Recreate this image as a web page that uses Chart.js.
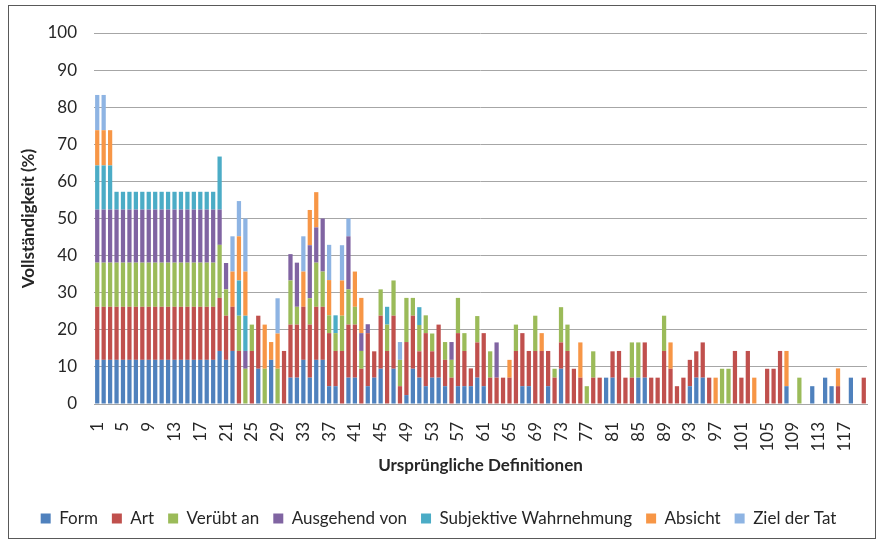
<!DOCTYPE html>
<html>
<head>
<meta charset="utf-8">
<script src="https://cdn.jsdelivr.net/npm/chart.js@4.4.1/dist/chart.umd.min.js"></script>
<style>
  html, body { margin: 0; padding: 0; background: #fff; }
  #wrap { position: relative; width: 882px; height: 545px; }
  #frame { position: absolute; left: 8px; top: 5px; width: 866px; height: 532px; border: 1px solid #595959; pointer-events: none; }
  canvas { position: absolute; left: 0; top: 0; }
</style>
</head>
<body>
<div id="wrap">
  <canvas id="chart" width="882" height="545"></canvas>
  <div id="frame"></div>
</div>
<script>
// Kategorien 1..120
const categories = [
    1, 2, 3, 4, 5, 6, 7, 8, 9, 10, 11, 12, 13, 14, 15, 16, 17, 18, 19, 20,
    21, 22, 23, 24, 25, 26, 27, 28, 29, 30, 31, 32, 33, 34, 35, 36, 37, 38, 39, 40,
    41, 42, 43, 44, 45, 46, 47, 48, 49, 50, 51, 52, 53, 54, 55, 56, 57, 58, 59, 60,
    61, 62, 63, 64, 65, 66, 67, 68, 69, 70, 71, 72, 73, 74, 75, 76, 77, 78, 79, 80,
    81, 82, 83, 84, 85, 86, 87, 88, 89, 90, 91, 92, 93, 94, 95, 96, 97, 98, 99, 100,
    101, 102, 103, 104, 105, 106, 107, 108, 109, 110, 111, 112, 113, 114, 115, 116, 117, 118, 119, 120
];

const yTicks = [0, 10, 20, 30, 40, 50, 60, 70, 80, 90, 100];

// Werte in %
const form = [
    11.9, 11.9, 11.9, 11.9, 11.9, 11.9, 11.9, 11.9, 11.9, 11.9,
    11.9, 11.9, 11.9, 11.9, 11.9, 11.9, 11.9, 11.9, 11.9, 14.3,
    11.9, 14.3, 0, 0, 0, 9.5, 0, 11.9, 0, 0,
    7.1, 7.1, 11.9, 7.1, 11.9, 11.9, 4.8, 4.8, 0, 7.1,
    7.1, 0, 4.8, 7.1, 9.5, 0, 9.5, 0, 2.4, 9.5,
    7.1, 4.8, 7.1, 7.1, 4.8, 0, 4.8, 4.8, 4.8, 7.1,
    4.8, 0, 0, 0, 0, 0, 4.8, 4.8, 0, 0,
    4.8, 0, 9.5, 0, 0, 0, 0, 0, 0, 7.1,
    7.1, 0, 0, 0, 7.1, 7.1, 0, 0, 0, 0,
    0, 0, 4.8, 7.1, 7.1, 0, 0, 0, 0, 0,
    0, 0, 0, 0, 0, 0, 0, 4.8, 0, 0,
    0, 4.8, 0, 7.1, 4.8, 0, 0, 7.1, 0, 0
];
const art = [
    14.3, 14.3, 14.3, 14.3, 14.3, 14.3, 14.3, 14.3, 14.3, 14.3,
    14.3, 14.3, 14.3, 14.3, 14.3, 14.3, 14.3, 14.3, 14.3, 14.3,
    11.9, 11.9, 14.3, 0, 14.3, 14.3, 0, 0, 0, 14.3,
    14.3, 14.3, 14.3, 14.3, 14.3, 14.3, 14.3, 9.5, 14.3, 14.3,
    14.3, 9.5, 14.3, 7.1, 14.3, 14.3, 14.3, 4.8, 14.3, 14.3,
    7.1, 14.3, 7.1, 14.3, 7.1, 7.1, 14.3, 9.5, 4.8, 9.5,
    14.3, 7.1, 7.1, 7.1, 7.1, 14.3, 14.3, 9.5, 14.3, 14.3,
    9.5, 7.1, 7.1, 14.3, 9.5, 7.1, 0, 7.1, 7.1, 0,
    7.1, 14.3, 7.1, 7.1, 0, 9.5, 7.1, 7.1, 14.3, 9.5,
    4.8, 7.1, 7.1, 7.1, 9.5, 7.1, 0, 0, 0, 14.3,
    7.1, 14.3, 0, 0, 9.5, 9.5, 14.3, 0, 0, 0,
    0, 0, 0, 0, 0, 4.8, 0, 0, 0, 7.1
];
const veruebt = [
    11.9, 11.9, 11.9, 11.9, 11.9, 11.9, 11.9, 11.9, 11.9, 11.9,
    11.9, 11.9, 11.9, 11.9, 11.9, 11.9, 11.9, 11.9, 11.9, 14.3,
    7.1, 0, 9.5, 9.5, 7.1, 0, 9.5, 0, 9.5, 0,
    11.9, 4.8, 0, 7.1, 11.9, 9.5, 4.8, 4.8, 9.5, 9.5,
    4.8, 4.8, 0, 0, 7.1, 7.1, 9.5, 7.1, 11.9, 4.8,
    7.1, 4.8, 4.8, 0, 4.8, 4.8, 9.5, 4.8, 0, 7.1,
    0, 7.1, 0, 0, 0, 7.1, 0, 0, 9.5, 0,
    0, 2.4, 9.5, 7.1, 0, 0, 4.8, 7.1, 0, 0,
    0, 0, 0, 9.5, 9.5, 0, 0, 0, 9.5, 0,
    0, 0, 0, 0, 0, 0, 0, 9.5, 9.5, 0,
    0, 0, 0, 0, 0, 0, 0, 0, 0, 7.1,
    0, 0, 0, 0, 0, 0, 0, 0, 0, 0
];
const ausgehend = [
    14.3, 14.3, 14.3, 14.3, 14.3, 14.3, 14.3, 14.3, 14.3, 14.3,
    14.3, 14.3, 14.3, 14.3, 14.3, 14.3, 14.3, 14.3, 14.3, 9.5,
    7.1, 0, 0, 4.8, 0, 0, 0, 0, 0, 0,
    7.1, 11.9, 0, 14.3, 9.5, 14.3, 0, 0, 0, 14.3,
    0, 4.8, 2.4, 0, 0, 0, 0, 0, 0, 0,
    0, 0, 0, 0, 0, 4.8, 0, 0, 0, 0,
    0, 0, 9.5, 0, 0, 0, 0, 0, 0, 0,
    0, 0, 0, 0, 0, 0, 0, 0, 0, 0,
    0, 0, 0, 0, 0, 0, 0, 0, 0, 0,
    0, 0, 0, 0, 0, 0, 0, 0, 0, 0,
    0, 0, 0, 0, 0, 0, 0, 0, 0, 0,
    0, 0, 0, 0, 0, 0, 0, 0, 0, 0
];
const subjektiv = [
    11.9, 11.9, 11.9, 4.8, 4.8, 4.8, 4.8, 4.8, 4.8, 4.8,
    4.8, 4.8, 4.8, 4.8, 4.8, 4.8, 4.8, 4.8, 4.8, 14.3,
    0, 0, 9.5, 9.5, 0, 0, 0, 0, 0, 0,
    0, 0, 0, 0, 0, 0, 0, 4.8, 0, 0,
    0, 0, 0, 0, 0, 4.8, 0, 0, 0, 0,
    4.8, 0, 0, 0, 0, 0, 0, 0, 0, 0,
    0, 0, 0, 0, 0, 0, 0, 0, 0, 0,
    0, 0, 0, 0, 0, 0, 0, 0, 0, 0,
    0, 0, 0, 0, 0, 0, 0, 0, 0, 0,
    0, 0, 0, 0, 0, 0, 0, 0, 0, 0,
    0, 0, 0, 0, 0, 0, 0, 0, 0, 0,
    0, 0, 0, 0, 0, 0, 0, 0, 0, 0
];
const absicht = [
    9.5, 9.5, 9.5, 0, 0, 0, 0, 0, 0, 0,
    0, 0, 0, 0, 0, 0, 0, 0, 0, 0,
    0, 9.5, 11.9, 11.9, 0, 0, 11.9, 4.8, 9.5, 0,
    0, 0, 9.5, 9.5, 9.5, 0, 9.5, 0, 9.5, 0,
    9.5, 9.5, 0, 0, 0, 0, 0, 0, 0, 0,
    0, 0, 0, 0, 0, 0, 0, 0, 0, 0,
    0, 0, 0, 0, 4.8, 0, 0, 0, 0, 4.8,
    0, 0, 0, 0, 0, 9.5, 0, 0, 0, 0,
    0, 0, 0, 0, 0, 0, 0, 0, 0, 7.1,
    0, 0, 0, 0, 0, 0, 7.1, 0, 0, 0,
    0, 0, 7.1, 0, 0, 0, 0, 9.5, 0, 0,
    0, 0, 0, 0, 0, 4.8, 0, 0, 0, 0
];
const ziel = [
    9.5, 9.5, 0, 0, 0, 0, 0, 0, 0, 0,
    0, 0, 0, 0, 0, 0, 0, 0, 0, 0,
    0, 9.5, 9.5, 14.3, 0, 0, 0, 0, 9.5, 0,
    0, 0, 9.5, 0, 0, 0, 9.5, 0, 9.5, 4.8,
    0, 0, 0, 0, 0, 0, 0, 4.8, 0, 0,
    0, 0, 0, 0, 0, 0, 0, 0, 0, 0,
    0, 0, 0, 0, 0, 0, 0, 0, 0, 0,
    0, 0, 0, 0, 0, 0, 0, 0, 0, 0,
    0, 0, 0, 0, 0, 0, 0, 0, 0, 0,
    0, 0, 0, 0, 0, 0, 0, 0, 0, 0,
    0, 0, 0, 0, 0, 0, 0, 0, 0, 0,
    0, 0, 0, 0, 0, 0, 0, 0, 0, 0
];

const seriesNames = ['Form', 'Art', 'Verübt an', 'Ausgehend von', 'Subjektive Wahrnehmung', 'Absicht', 'Ziel der Tat'];
const seriesData = [form, art, veruebt, ausgehend, subjektiv, absicht, ziel];
const seriesColors = ['#4F81BD', '#C0504D', '#9BBB59', '#8064A2', '#4BACC6', '#F79646', '#8EB4E3'];

Chart.defaults.font.family = "Lato, 'Open Sans', sans-serif";
Chart.defaults.font.size = 17;
Chart.defaults.color = '#262626';

new Chart(document.getElementById('chart').getContext('2d'), {
    type: 'bar',
    data: {
        labels: categories,
        datasets: seriesNames.map((name, i) => ({
            label: name,
            data: seriesData[i],
            backgroundColor: seriesColors[i],
            borderWidth: 0,
            barPercentage: 0.66,
            categoryPercentage: 1.0
        }))
    },
    options: {
        responsive: false,
        animation: false,
        layout: { padding: { left: 10, right: 15, top: 33, bottom: 8 } },
        plugins: {
            legend: {
                position: 'bottom',
                labels: { boxWidth: 10, boxHeight: 10, padding: 14, color: '#262626' }
            },
            tooltip: { enabled: false }
        },
        scales: {
            x: {
                stacked: true,
                grid: { display: false },
                border: { display: true, color: '#a6a6a6', width: 1 },
                ticks: {
                    autoSkip: false,
                    minRotation: 90,
                    maxRotation: 90,
                    padding: 10,
                    callback: (v, i) => (i % 4 === 0 ? String(categories[i]) : '')
                },
                title: {
                    display: true,
                    text: 'Ursprüngliche Definitionen',
                    font: { weight: 'bold', size: 17 },
                    padding: { top: 4, bottom: 20 }
                },
                afterFit: (scale) => {
                    scale.height = 92;
                    scale.paddingLeft = 0;
                    scale.paddingRight = 0;
                }
            },
            y: {
                stacked: true,
                min: 0,
                max: 100,
                afterBuildTicks: (scale) => { scale.ticks = yTicks.map(v => ({ value: v })); },
                grid: { color: '#a6a6a6', lineWidth: 1, drawTicks: false },
                border: { display: false },
                ticks: { padding: 17 },
                title: {
                    display: true,
                    text: 'Vollständigkeit (%)',
                    font: { weight: 'bold', size: 17 },
                    padding: { top: 8, bottom: 0 }
                },
                afterFit: (scale) => {
                    scale.width = 84;
                    scale.paddingTop = 0;
                    scale.paddingBottom = 0;
                }
            }
        }
    }
});
</script>
</body>
</html>
